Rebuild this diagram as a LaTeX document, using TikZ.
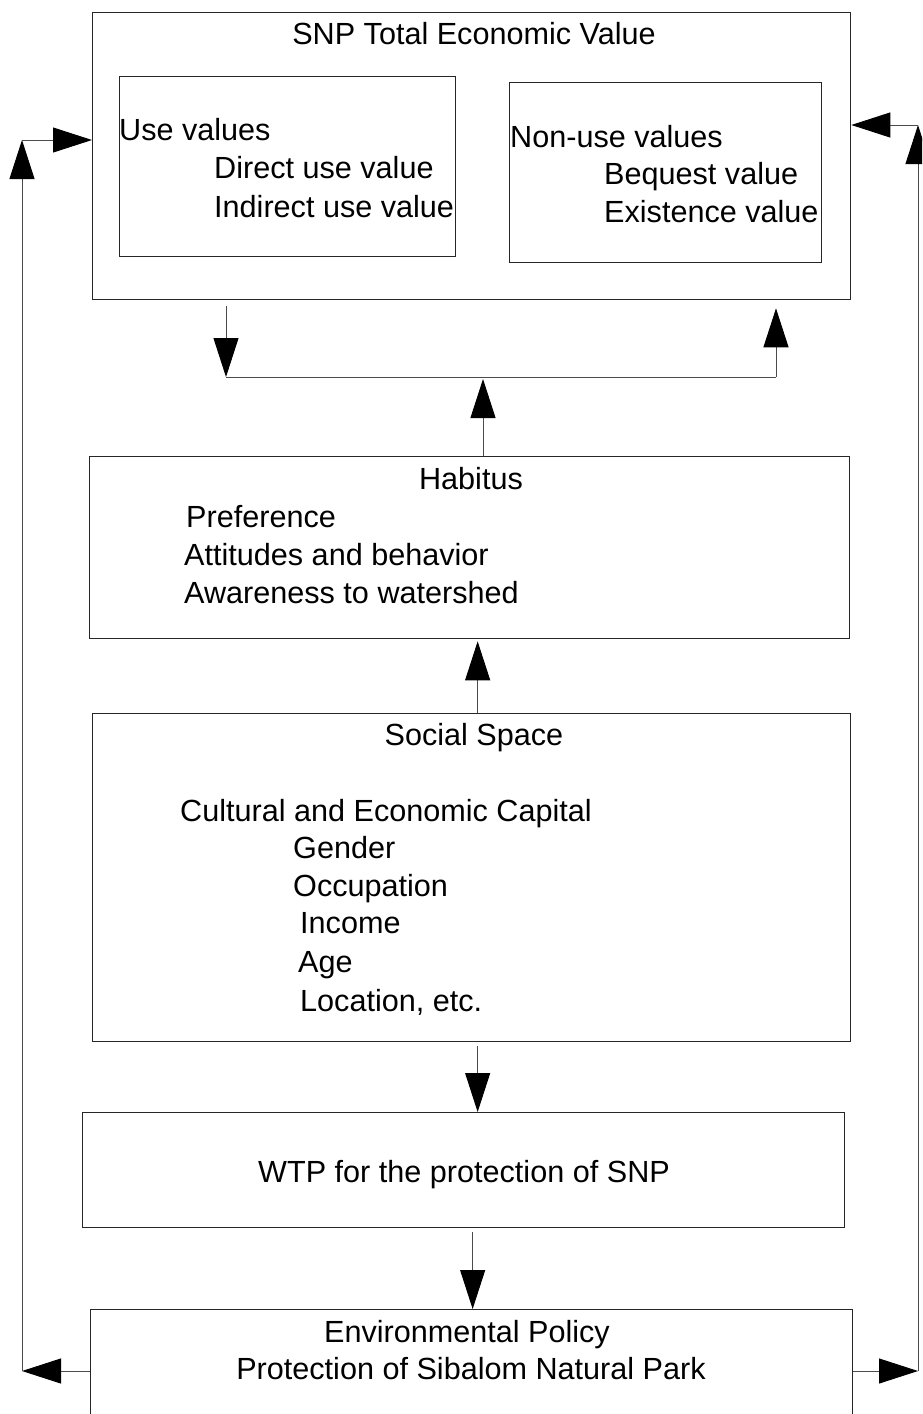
\documentclass[tikz,border=0pt]{standalone}
\usepackage{fontspec}
\setmainfont{Liberation Sans}
\usetikzlibrary{arrows.meta}
\begin{document}
\begin{tikzpicture}[x=1pt,y=-1pt,
  box/.style={draw=black!85,line width=1.3pt,anchor=north west,inner sep=0pt},
  lbl/.style={anchor=base west,inner sep=0pt,font=\fontsize{30.6}{37}\selectfont},
  clbl/.style={anchor=base,inner sep=0pt,font=\fontsize{30.6}{37}\selectfont},
  conn/.style={draw=black!70,line width=1pt},
  arr/.style={conn,-{Triangle[length=39pt,width=25pt,color=black]}}]
\useasboundingbox (0,0) rectangle (922,1414);
\clip (0,0) rectangle (922,1414);
% boxes
\node[box,minimum width=758pt,minimum height=287pt] (tev) at (92,12) {};
\node[box,minimum width=336pt,minimum height=180pt] (use) at (119,76) {};
\node[box,minimum width=312pt,minimum height=180pt] (nonuse) at (509,82) {};
\node[box,minimum width=760pt,minimum height=182pt] (hab) at (89,456) {};
\node[box,minimum width=758pt,minimum height=328pt] (soc) at (92,713) {};
\node[box,minimum width=762pt,minimum height=115pt] (wtp) at (82,1112) {};
\node[box,minimum width=762pt,minimum height=124pt] (env) at (90,1309) {};
% texts
\node[clbl] (tevt) at (474,44) {SNP Total Economic Value};
\node[lbl] (u1) at (119,140) {Use values};
\node[lbl] (u2) at (214,178) {Direct use value};
\node[lbl] (u3) at (214,217) {Indirect use value};
\node[lbl] (n1) at (510,147) {Non-use values};
\node[lbl] (n2) at (604,184) {Bequest value};
\node[lbl] (n3) at (604,222) {Existence value};
\node[clbl] (habt) at (471,489) {Habitus};
\node[lbl] (h1) at (186,527) {Preference};
\node[lbl] (h2) at (184,565) {Attitudes and behavior};
\node[lbl] (h3) at (184,603) {Awareness to watershed};
\node[clbl] (soct) at (474,745) {Social Space};
\node[lbl] (s1) at (180,821) {Cultural and Economic Capital};
\node[lbl] (s2) at (293,858) {Gender};
\node[lbl] (s3) at (293,896) {Occupation};
\node[lbl] (s4) at (300,933) {Income};
\node[lbl] (s5) at (298,972) {Age};
\node[lbl] (s6) at (300,1011) {Location, etc.};
\node[clbl] (wtpt) at (464,1182) {WTP for the protection of SNP};
\node[clbl] (e1) at (467,1342) {Environmental Policy};
\node[clbl] (e2) at (471,1379) {Protection of Sibalom Natural Park};
% connector coordinates
\coordinate (jl) at (226,377);
\coordinate (jr) at (776,377);
\coordinate (jm) at (483,379);
\coordinate (lc) at (22,1371);
\coordinate (lt) at (22,140);
\coordinate (rc) at (918,1371);
\coordinate (rt) at (918,125);
% connectors
\draw[arr,shorten <=6pt] (tev.south -| jl) -- (jl);
\draw[conn] (jl) -- (jr);
\draw[arr,shorten >=8pt] (jr) -- (tev.south -| jr);
\draw[arr] (hab.north -| jm) -- (jm);
\draw[arr,shorten >=2pt] ([xshift=6pt]soc.north) -- ([xshift=6pt]soc.north |- hab.south);
\draw[arr,shorten <=4pt] ([xshift=6pt]soc.south) -- ([xshift=6pt]soc.south |- wtp.north);
\draw[arr,shorten <=4pt] ([xshift=9pt]wtp.south) -- ([xshift=9pt]wtp.south |- env.north);
\draw[arr] (env.west |- lc) -- (lc);
\draw[arr] (lc) -- (lt);
\draw[arr] (lt) -- (tev.west |- lt);
\draw[arr] (env.east |- rc) -- (rc);
\draw[arr] (rc) -- (rt);
\draw[arr] (rt) -- (tev.east |- rt);
\end{tikzpicture}
\end{document}
